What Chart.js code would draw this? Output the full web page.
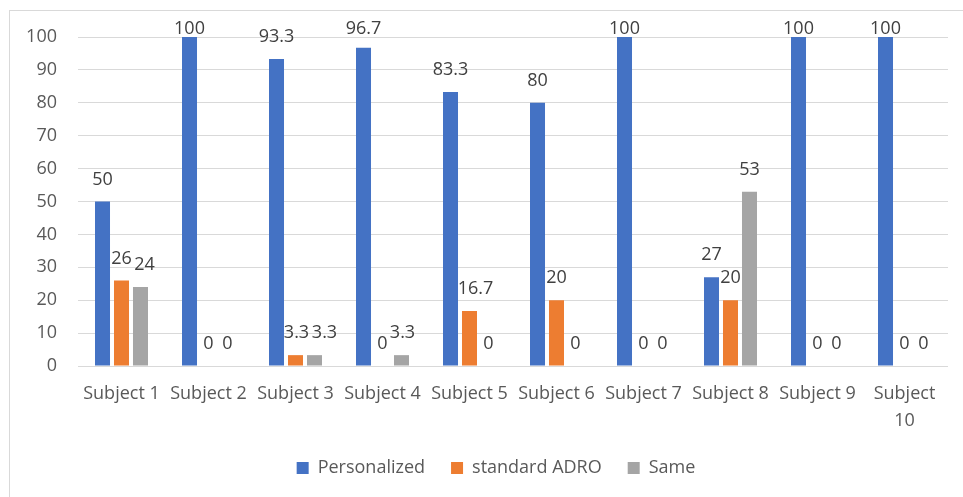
<!DOCTYPE html>
<html>
<head>
<meta charset="utf-8">
<script src="https://cdn.jsdelivr.net/npm/chart.js@4/dist/chart.umd.min.js"></script>
<style>
  html, body { margin: 0; padding: 0; background: #ffffff; }
  canvas { display: block; }
</style>
</head>
<body>
<canvas id="chart" width="963" height="497"></canvas>
<script>
// Subjects on the x axis
const categories = ['Subject 1', 'Subject 2', 'Subject 3', 'Subject 4', 'Subject 5',
                    'Subject 6', 'Subject 7', 'Subject 8', 'Subject 9', 'Subject 10'];

// Percentage of preferences per fitting
const personalized = [50, 100, 93.3, 96.7, 83.3, 80, 100, 27, 100, 100];
const standardADRO = [26, 0, 3.3, 0, 16.7, 20, 0, 20, 0, 0];
const same         = [24, 0, 3.3, 3.3, 0, 0, 0, 53, 0, 0];

const yTicks = [0, 10, 20, 30, 40, 50, 60, 70, 80, 90, 100];

const FONT = '"Open Sans", "Noto Sans", sans-serif';
const TEXT = '#595959';
const GRID = '#d9d9d9';

// Thin frame around the whole chart
const framePlugin = {
  id: 'frame',
  afterLayout(chart) {
    // centre the legend row a little right of the canvas middle
    if (chart.legend) chart.legend.left = 44;
  },
  beforeDraw(chart) {
    const ctx = chart.ctx;
    ctx.save();
    ctx.fillStyle = '#ffffff';
    ctx.fillRect(0, 0, chart.width, chart.height);
    ctx.strokeStyle = GRID;
    ctx.lineWidth = 1;
    ctx.strokeRect(9.5, 10.5, chart.width + 20, chart.height + 20);
    ctx.restore();
  }
};

// Value labels above each bar; a label is pushed to the right
// when it would collide with a bar or an earlier label.
const valueLabels = {
  id: 'valueLabels',
  afterDatasetsDraw(chart) {
    const ctx = chart.ctx;
    ctx.save();
    ctx.font = '18px ' + FONT;
    ctx.fillStyle = '#404040';
    ctx.textAlign = 'center';
    ctx.textBaseline = 'middle';
    const metas = chart.data.datasets.map((d, i) => chart.getDatasetMeta(i));
    const bars = [];
    metas.forEach((m, di) => m.data.forEach((b, i) => {
      const h = b.base - b.y;
      if (h > 0.5) bars.push({ di, i, x0: b.x - b.width / 2, x1: b.x + b.width / 2, y0: b.y, y1: b.base });
    }));
    const placed = [];
    const hits = (a, r, gap) => a.x0 - gap < r.x1 && a.x1 + gap > r.x0 && a.y0 < r.y1 && a.y1 > r.y0;
    const minY = chart.chartArea.top - 8;
    for (let i = 0; i < categories.length; i++) {
      metas.forEach((m, di) => {
        const el = m.data[i];
        const v = chart.data.datasets[di].data[i];
        const txt = String(v);
        const w = ctx.measureText(txt).width;
        const cy = Math.max(el.y - 22, minY);
        let cx = el.x;
        for (let step = 0; step < 60; step++) {
          const box = { x0: cx - w / 2 + 1, x1: cx + w / 2 - 1, y0: cy - 7, y1: cy + 7 };
          const clash = placed.some(p => hits(box, p, 4)) ||
                        bars.some(r => !(r.di === di && r.i === i) && hits(box, r, 0.5));
          if (!clash) { placed.push(box); break; }
          cx += 1;
        }
        ctx.fillText(txt, cx, cy);
      });
    }
    ctx.restore();
  }
};

new Chart(document.getElementById('chart'), {
  type: 'bar',
  data: {
    labels: categories,
    datasets: [
      { label: 'Personalized',  data: personalized, backgroundColor: '#4472C4' },
      { label: 'standard ADRO', data: standardADRO, backgroundColor: '#ED7D31' },
      { label: 'Same',          data: same,         backgroundColor: '#A5A5A5' }
    ]
  },
  options: {
    responsive: false,
    animation: false,
    devicePixelRatio: 1,
    categoryPercentage: 0.655,
    barPercentage: 0.79,
    layout: { padding: { top: 37, right: 15, bottom: 10, left: 0 } },
    scales: {
      x: {
        grid: { display: false, drawTicks: false },
        border: { display: false },
        ticks: {
          color: TEXT,
          font: { family: FONT, size: 18, lineHeight: 1.5 },
          padding: 14,
          maxRotation: 0,
          autoSkip: false,
          callback(value) {
            const lab = this.getLabelForValue(value);
            return lab.length > 9 ? lab.split(' ') : lab;
          }
        },
        afterFit(scale) { scale.height = 67; }
      },
      y: {
        min: 0,
        max: 100,
        grid: { color: GRID, lineWidth: 1, drawTicks: false },
        border: { display: false },
        afterBuildTicks(scale) { scale.ticks = yTicks.map(v => ({ value: v })); },
        ticks: {
          color: TEXT,
          font: { family: FONT, size: 18 },
          padding: 21
        },
        afterFit(scale) { scale.width = 78; }
      }
    },
    plugins: {
      legend: {
        position: 'bottom',
        labels: {
          color: TEXT,
          font: { family: FONT, size: 18 },
          boxWidth: 12,
          boxHeight: 12,
          padding: 26
        }
      },
      tooltip: { enabled: false }
    }
  },
  plugins: [framePlugin, valueLabels]
});
</script>
</body>
</html>
